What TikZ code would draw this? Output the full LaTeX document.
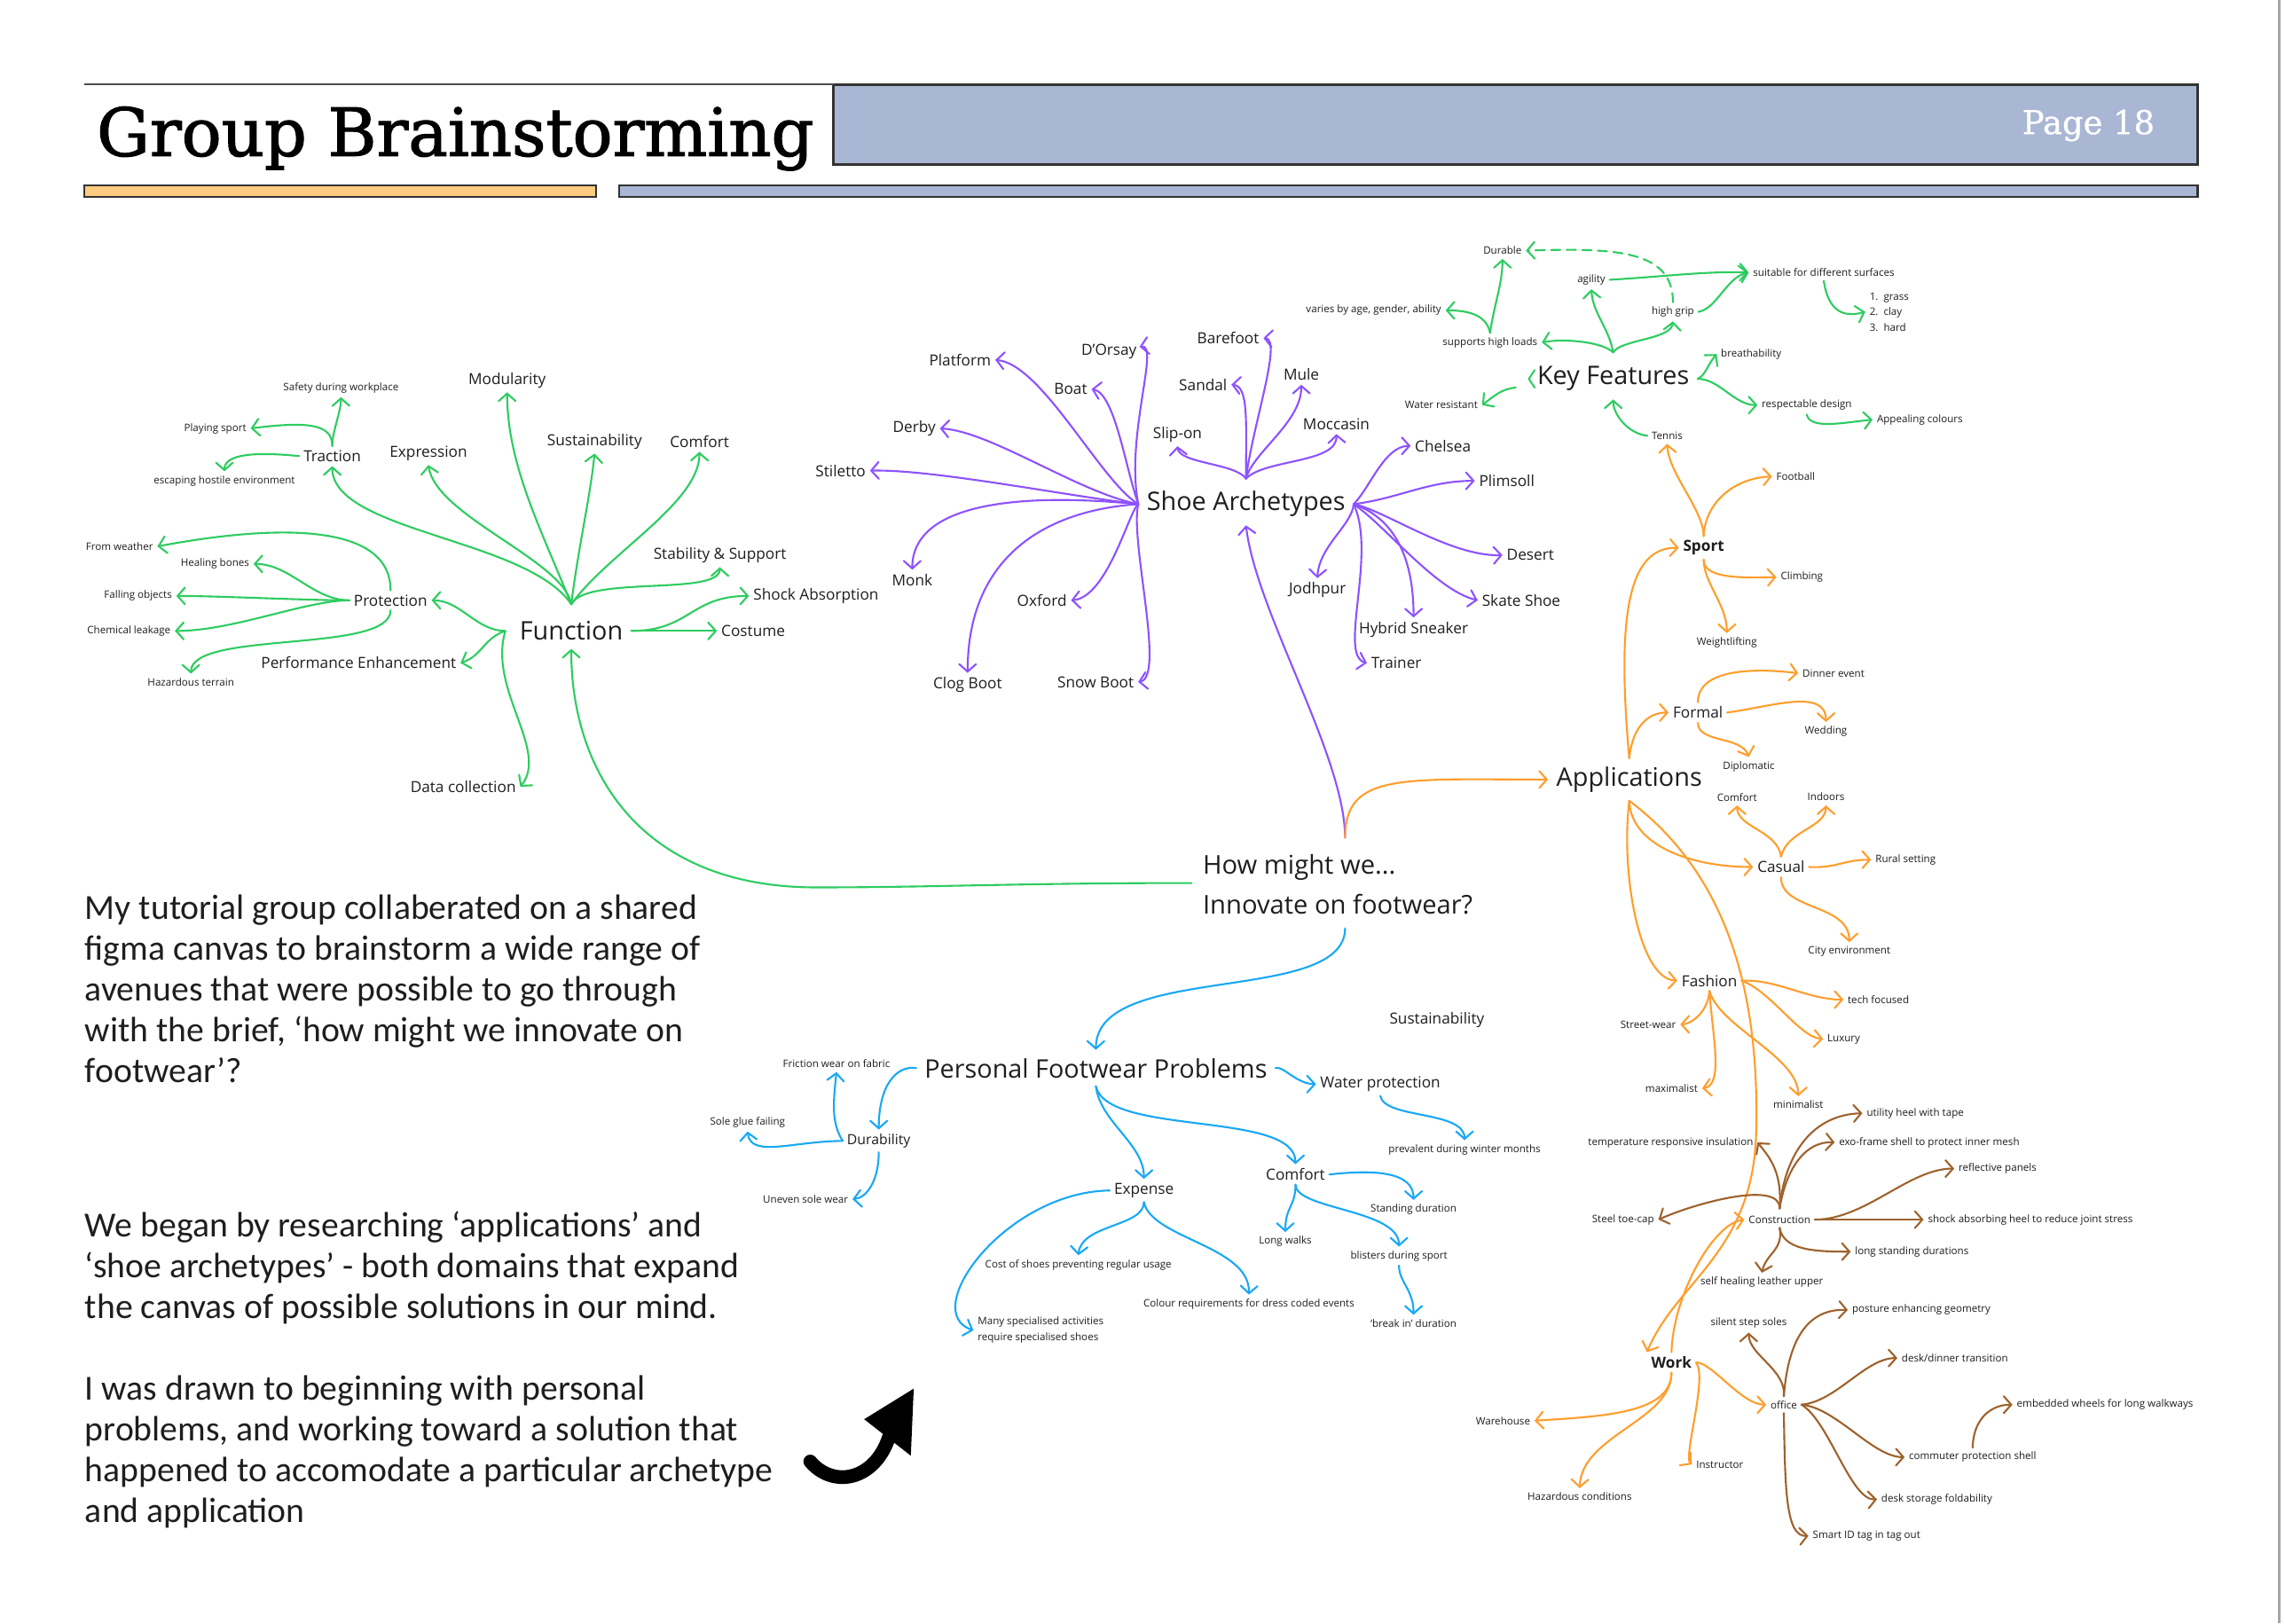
\documentclass[tikz,border=0pt]{standalone}
\usepackage{fontspec}
\setmainfont{Open Sans}
\newfontfamily\mapfont{Open Sans}
\newfontfamily\parafont{Carlito}
\newfontfamily\titlefont[FakeBold=1.6]{DejaVu Serif}
\newfontfamily\pagefont[FakeBold=0.8]{DejaVu Serif}
\usetikzlibrary{arrows.meta,calc}
\definecolor{cg}{RGB}{46,204,96}
\definecolor{cp}{RGB}{141,82,255}
\definecolor{co}{RGB}{255,158,44}
\definecolor{cb}{RGB}{24,168,245}
\definecolor{cbr}{RGB}{158,98,44}
\definecolor{hdrblue}{RGB}{169,183,212}
\definecolor{barorange}{RGB}{253,204,128}
\definecolor{txt}{RGB}{30,30,30}
\begin{document}
\begin{tikzpicture}[x=0.016429cm,y=-0.016429cm,
  lbl/.style={inner sep=1.2pt, text=txt},
  mainn/.style={lbl, inner sep=2.5pt, font=\mapfont\fontsize{8.2}{9.5}\selectfont},
  midn/.style={lbl, font=\mapfont\fontsize{4.9}{5.8}\selectfont},
  midbn/.style={lbl, font=\mapfont\bfseries\fontsize{4.9}{5.8}\selectfont},
  duran/.style={lbl, font=\mapfont\fontsize{4.5}{5.4}\selectfont},
  smalln/.style={lbl, font=\mapfont\fontsize{3.3}{4}\selectfont},
  para/.style={inner sep=0pt, text=txt, font=\parafont\fontsize{11.3}{13}\selectfont},
  conn/.style={line width=0.6pt, line cap=round, -{Straight Barb[length=2.4pt,width=5.4pt,line cap=round]}},
  gA/.style={conn, draw=cg},
  pA/.style={conn, draw=cp},
  oA/.style={conn, draw=co},
  bA/.style={conn, draw=cb},
  brA/.style={conn, draw=cbr}]
\useasboundingbox (0,0) rectangle (1568,1114);
\fill[white] (0,0) rectangle (1568,1114);
\draw[black!35, line width=0.8pt] (1564,0) -- (1564,1114);

% ---------- header ----------
\fill[hdrblue] (572,58) rectangle (1508,113);
\draw[black!80, line width=0.9pt] (572,58) rectangle (1508,113);
\draw[black!70, line width=0.6pt] (58,58) -- (572,58);
\filldraw[fill=barorange, draw=black!80, line width=0.6pt] (58,127) rectangle (409,135);
\filldraw[fill=hdrblue, draw=black!80, line width=0.6pt] (425,127) rectangle (1508,135);
\node[anchor=base west, inner sep=0pt, font=\titlefont\fontsize{21.3}{24}\selectfont] (title) at (66,107) {Group Brainstorming};
\node[anchor=base east, inner sep=0pt, text=white, font=\pagefont\fontsize{10.5}{12}\selectfont] (page) at (1479,92) {Page 18};

% ---------- paragraphs ----------
\node[para, anchor=base west] (pa1) at (58,631) {My tutorial group collaberated on a shared};
\node[para, anchor=base west] (pa2) at (58,659) {figma canvas to brainstorm a wide range of};
\node[para, anchor=base west] (pa3) at (58,687) {avenues that were possible to go through};
\node[para, anchor=base west] (pa4) at (58,715) {with the brief, ‘how might we innovate on};
\node[para, anchor=base west] (pa5) at (58,743) {footwear’?};
\node[para, anchor=base west] (pb1) at (58,849) {We began by researching ‘applications’ and};
\node[para, anchor=base west] (pb2) at (58,877) {‘shoe archetypes’ - both domains that expand};
\node[para, anchor=base west] (pb3) at (58,905) {the canvas of possible solutions in our mind.};
\node[para, anchor=base west] (pc1) at (58,961) {I was drawn to beginning with personal};
\node[para, anchor=base west] (pc2) at (58,989) {problems, and working toward a solution that};
\node[para, anchor=base west] (pc3) at (58,1017) {happened to accomodate a particular archetype};
\node[para, anchor=base west] (pc4) at (58,1045) {and application};

% black arrow
\draw[line width=4.4pt, line cap=round] (556,1003) .. controls (572,1022) and (602,1016) .. (611,983);
\fill (627,953) -- (593,974) -- (625,999) -- cycle;

% ---------- centre ----------
\node[lbl, inner sep=2.5pt, align=left, font=\mapfont\fontsize{8.3}{12.6}\selectfont] (hmw) at (918,607) {How might we...\\Innovate on footwear?};
\coordinate (hL) at ($(hmw.west)+(-2,-1)$);
\coordinate (hT) at ($(hmw.north)+(5,-6)$);
\coordinate (hB) at ($(hmw.south)+(5,4)$);

% ---------- Function (green) ----------
\node[mainn] (func) at (392,433) {Function};
\node[midn] (modul) at (348,261) {Modularity};
\node[midn] (sustf) at (408,303) {Sustainability};
\node[midn] (comff) at (480,303) {Comfort};
\node[midn] (expr) at (294,311) {Expression};
\node[midn] (tract) at (228,313) {Traction};
\node[smalln] (safety) at (234,266) {Safety during workplace};
\node[smalln, anchor=east] (playsp) at (172,294) {Playing sport};
\node[smalln] (escap) at (154,330) {escaping hostile environment};
\node[midn] (stab) at (494,381) {Stability \& Support};
\node[midn, anchor=west] (shock) at (514,409) {Shock Absorption};
\node[midn, anchor=west] (costume) at (492,433) {Costume};
\node[midn] (protect) at (268,412) {Protection};
\node[smalln, anchor=east] (weather) at (108,375) {From weather};
\node[smalln, anchor=east] (healing) at (174,387) {Healing bones};
\node[smalln, anchor=east] (falling) at (121,409) {Falling objects};
\node[smalln, anchor=east] (chem) at (120,433) {Chemical leakage};
\node[smalln] (hazter) at (131,468) {Hazardous terrain};
\node[midn, anchor=east] (perf) at (316,455) {Performance Enhancement};
\node[midn, anchor=east] (datac) at (357,540) {Data collection};

\coordinate (fT) at ($(func.north)+(0,-6)$);
\coordinate (fL) at ($(func.west)+(-4,0)$);
\draw[gA] (fT) .. controls +(-20,-50) and +(0,50) .. (modul.south);
\draw[gA] (fT) .. controls +(5,-40) and +(-3,30) .. (sustf.south);
\draw[gA] (fT) .. controls +(25,-35) and +(0,35) .. (comff.south);
\draw[gA] (fT) .. controls +(-5,-30) and +(5,35) .. (expr.south);
\draw[gA] (fT) .. controls +(-30,-45) and +(0,45) .. (tract.south);
\draw[gA] (fT) .. controls +(10,-20) and +(0,20) .. (stab.south);
\draw[gA] (func.east) -- (costume.west);
\draw[gA] (func.east) .. controls +(40,0) and +(-40,0) .. (shock.west);
\draw[gA] (fL) .. controls +(-20,0) and +(20,0) .. (protect.east);
\draw[gA] (fL) .. controls +(-15,5) and +(15,-5) .. (perf.east);
\draw[gA] (fL) .. controls +(-12,40) and +(20,-25) .. (datac.east);
\draw[gA] (protect.north) .. controls +(0,-47) and +(80,-15) .. (weather.east);
\draw[gA] (protect.west) .. controls +(-25,0) and +(25,0) .. (healing.east);
\draw[gA] (protect.west) .. controls +(-30,0) and +(30,0) .. (falling.east);
\draw[gA] (protect.west) .. controls +(-30,0) and +(40,0) .. (chem.east);
\draw[gA] (protect.south) .. controls +(0,30) and +(0,-30) .. (hazter.north);
\draw[gA] (tract.north) .. controls +(0,-10) and +(0,10) .. (safety.south);
\draw[gA] (tract.north) .. controls +(0,-15) and +(40,-5) .. (playsp.east);
\draw[gA] (tract.west) .. controls +(-30,-3) and +(0,-12) .. (escap.north);
\draw[gA] (hL) .. controls (700,606) and (640,609) .. (560,609) .. controls (440,609) and (392,530) .. (func.south);

% ---------- Shoe Archetypes (purple) ----------
\node[mainn] (shoe) at (855,346) {Shoe Archetypes};
\node[midn, anchor=east] (platf) at (683,247) {Platform};
\node[midn] (dorsay) at (761,241) {D’Orsay};
\node[midn, anchor=east] (boat) at (749,267) {Boat};
\node[midn, anchor=east] (derby) at (645,294) {Derby};
\node[midn, anchor=east] (stil) at (597,323) {Stiletto};
\node[midn] (monk) at (626,398) {Monk};
\node[midn] (clog) at (664,470) {Clog Boot};
\node[midn, anchor=east] (oxford) at (735,412) {Oxford};
\node[midn, anchor=east] (snow) at (781,468) {Snow Boot};
\node[midn] (slip) at (808,298) {Slip-on};
\node[midn, anchor=east] (sandal) at (845,264) {Sandal};
\node[midn, anchor=east] (barefoot) at (867,232) {Barefoot};
\node[midn] (mule) at (893,257) {Mule};
\node[midn] (mocc) at (917,291) {Moccasin};
\node[midn, anchor=west] (chelsea) at (968,306) {Chelsea};
\node[midn, anchor=west] (plim) at (1012,330) {Plimsoll};
\node[midn, anchor=west] (desert) at (1031,381) {Desert};
\node[midn, anchor=west] (skate) at (1014,412) {Skate Shoe};
\node[midn] (hybrid) at (970,432) {Hybrid Sneaker};
\node[midn, anchor=west] (trainer) at (938,455) {Trainer};
\node[midn] (jodh) at (904,405) {Jodhpur};

\draw[pA] (hT) .. controls +(0,-56) and (862,420) .. (shoe.south);
\draw[pA] (shoe.west) .. controls (755,330) and (715,250) .. (platf.east);
\draw[pA] (shoe.west) .. controls (772,300) and (796,236) .. ($(dorsay.east)+(-1,-3)$);
\draw[pA] (shoe.west) .. controls (772,320) and (765,270) .. (boat.east);
\draw[pA] (shoe.west) .. controls (740,338) and (680,296) .. (derby.east);
\draw[pA] (shoe.west) .. controls (730,340) and (640,322) .. (stil.east);
\draw[pA] (shoe.west) .. controls (700,338) and (626,345) .. (monk.north);
\draw[pA] (shoe.west) .. controls (720,350) and (664,380) .. (clog.north);
\draw[pA] (shoe.west) .. controls (775,350) and (760,410) .. (oxford.east);
\draw[pA] (shoe.west) .. controls (775,370) and (800,465) .. (snow.east);
\coordinate (sT) at ($(shoe.north)+(0,-3)$);
\draw[pA] (sT) .. controls (848,318) and (809,318) .. (slip.south);
\draw[pA] (sT) .. controls (855,290) and (857,265) .. (sandal.east);
\draw[pA] (sT) .. controls (860,290) and (880,233) .. (barefoot.east);
\draw[pA] (sT) .. controls (860,310) and (893,290) .. (mule.south);
\draw[pA] (sT) .. controls (868,315) and (918,318) .. (mocc.south);
\draw[pA] (shoe.east) .. controls (940,335) and (950,306) .. (chelsea.west);
\draw[pA] (shoe.east) .. controls (960,342) and (980,330) .. (plim.west);
\draw[pA] (shoe.east) .. controls (950,350) and (995,382) .. (desert.west);
\draw[pA] (shoe.east) .. controls (950,360) and (985,405) .. (skate.west);
\draw[pA] (shoe.east) .. controls (955,355) and (970,380) .. (hybrid.north);
\draw[pA] (shoe.east) .. controls (945,380) and (918,450) .. (trainer.west);
\draw[pA] (shoe.east) .. controls (928,360) and (905,375) .. (jodh.north);

% ---------- Key Features (green) ----------
\node[mainn] (kf) at (1107,260) {Key Features};
\node[smalln] (durable) at (1031,172) {Durable};
\node[smalln] (agility) at (1092,192) {agility};
\node[smalln] (highgrip) at (1148,214) {high grip};
\node[smalln, anchor=east] (shl) at (1058,235) {supports high loads};
\node[smalln, anchor=east] (varies) at (992,213) {varies by age, gender, ability};
\node[smalln, anchor=west] (suit) at (1200,187) {suitable for different surfaces};
\node[smalln, anchor=west, align=left, font=\mapfont\fontsize{3.3}{4.95}\selectfont] (lst) at (1280,214) {1.~~grass\\2.~~clay\\3.~~hard};
\node[smalln, anchor=west] (breath) at (1178,243) {breathability};
\node[smalln, anchor=west] (respd) at (1206,278) {respectable design};
\node[smalln, anchor=west] (appeal) at (1285,288) {Appealing colours};
\node[smalln, anchor=east] (water) at (1017,278) {Water resistant};
\node[smalln] (tennis) at (1144,299) {Tennis};

\draw[cg, line width=0.6pt, line cap=round, line join=round] ($(kf.west)+(4,-6)$) -- ($(kf.west)+(0,0)$) -- ($(kf.west)+(4,6)$);
\coordinate (kT) at ($(kf.north)+(0,-4)$);
\draw[gA] (kT) .. controls (1100,235) and (1075,232) .. (shl.east);
\draw[gA] (kT) .. controls (1104,225) and (1093,215) .. (agility.south);
\draw[gA] (kT) .. controls (1112,233) and (1147,233) .. (highgrip.south);
\draw[gA] (shl.north) .. controls (1025,210) and (1031,195) .. (durable.south);
\draw[gA] (shl.north) .. controls (1020,215) and (1005,213) .. (varies.east);
\draw[gA, dash pattern=on 3pt off 2pt] (highgrip.north) .. controls (1148,172) and (1110,170) .. (durable.east);
\draw[gA] (agility.east) .. controls (1140,190) and (1170,186) .. (suit.west);
\draw[gA] (highgrip.east) .. controls (1178,212) and (1185,190) .. (suit.west);
\draw[gA] (suit.south) .. controls (1254,210) and (1262,219) .. (lst.west);
\draw[gA] (kf.east) .. controls (1170,258) and (1172,250) .. (breath.west);
\draw[gA] (kf.east) .. controls (1180,260) and (1190,278) .. (respd.west);
\draw[gA] (respd.south) .. controls (1242,295) and (1265,290) .. (appeal.west);
\draw[gA] ($(kf.west)+(-9,6)$) .. controls (1030,267) and (1025,272) .. (water.east);
\draw[gA] (tennis.west) .. controls (1118,298) and (1107,285) .. (kf.south);

% ---------- Applications (orange) ----------
\node[mainn] (apps) at (1118,535) {Applications};
\node[midbn, anchor=west] (sport) at (1152,376) {Sport};
\node[smalln, anchor=west] (football) at (1216,327) {Football};
\node[smalln, anchor=west] (climb) at (1219,396) {Climbing};
\node[smalln] (weightl) at (1185,441) {Weightlifting};
\node[midn, anchor=west] (formal) at (1145,489) {Formal};
\node[smalln, anchor=west] (dinner) at (1234,462) {Dinner event};
\node[smalln] (wedding) at (1253,502) {Wedding};
\node[smalln] (diplo) at (1200,526) {Diplomatic};
\node[smalln] (ocomf) at (1192,547) {Comfort};
\node[smalln] (indoors) at (1253,547) {Indoors};
\node[midn, anchor=west] (casual) at (1203,595) {Casual};
\node[smalln, anchor=west] (rural) at (1284,590) {Rural setting};
\node[smalln] (city) at (1269,653) {City environment};
\node[midn, anchor=west] (fashion) at (1151,673) {Fashion};
\node[smalln, anchor=west] (tech) at (1265,686) {tech focused};
\node[smalln, anchor=west] (luxury) at (1251,713) {Luxury};
\node[smalln, anchor=east] (street) at (1153,703) {Street-wear};
\node[smalln, anchor=east] (maxi) at (1168,747) {maximalist};
\node[smalln] (mini) at (1234,758) {minimalist};
\node[midbn] (work) at (1147,935) {Work};
\node[smalln, anchor=west] (office) at (1212,964) {office};
\node[smalln, anchor=west] (instr) at (1161,1005) {Instructor};
\node[smalln, anchor=east] (wareh) at (1053,975) {Warehouse};
\node[smalln] (hazc) at (1084,1027) {Hazardous conditions};
\node[smalln, anchor=west] (constr) at (1197,837) {Construction};

\draw[oA] (hT) .. controls +(0,-45) and +(-100,0) .. (apps.west);
\draw[oA] (apps.north) .. controls (1110,430) and (1115,375) .. (sport.west);
\draw[oA] (apps.north) .. controls (1120,500) and (1130,489) .. (formal.west);
\draw[oA] (sport.north) .. controls (1170,345) and (1190,328) .. (football.west);
\draw[oA] (sport.north) .. controls (1169,350) and (1145,325) .. (tennis.south);
\draw[oA] (sport.south) .. controls (1169,396) and (1190,397) .. (climb.west);
\draw[oA] (sport.south) .. controls (1169,400) and (1185,415) .. (weightl.north);
\draw[oA] (formal.north) .. controls (1165,460) and (1200,458) .. (dinner.west);
\draw[oA] (formal.east) .. controls (1215,485) and (1253,472) .. (wedding.north);
\draw[oA] (formal.south) .. controls (1165,510) and (1195,505) .. (diplo.north);
\draw[oA] (apps.south) .. controls (1119,580) and (1160,595) .. (casual.west);
\draw[oA] (casual.north) .. controls (1220,570) and (1192,568) .. (ocomf.south);
\draw[oA] (casual.north) .. controls (1226,570) and (1253,568) .. (indoors.south);
\draw[oA] (casual.east) .. controls (1260,596) and (1265,590) .. (rural.west);
\draw[oA] (casual.south) .. controls (1222,625) and (1269,620) .. (city.north);
\draw[oA] (apps.south) .. controls (1112,600) and (1125,672) .. (fashion.west);
\draw[oA] (fashion.east) .. controls (1220,672) and (1240,686) .. (tech.west);
\draw[oA] (fashion.east) .. controls (1215,680) and (1235,712) .. (luxury.west);
\draw[oA] (fashion.south) .. controls (1172,695) and (1160,703) .. (street.east);
\draw[oA] (fashion.south) .. controls (1175,710) and (1183,745) .. (maxi.east);
\draw[oA] (fashion.south) .. controls (1180,705) and (1234,725) .. (mini.north);
\draw[oA] (apps.south) .. controls (1185,600) and (1208,680) .. (1205,780) .. controls (1202,860) and (1150,880) .. (work.north west);
\draw[oA] (work.north) .. controls (1148,890) and (1175,840) .. (constr.west);
\draw[oA] (work.east) .. controls (1175,935) and (1195,964) .. (office.west);
\draw[oA] (work.east) .. controls (1172,945) and (1155,1000) .. (instr.west);
\draw[oA] (work.south) .. controls (1147,970) and (1100,972) .. (wareh.east);
\draw[oA] (work.south) .. controls (1147,975) and (1085,985) .. (hazc.north);

% ---------- Construction / office (brown) ----------
\node[smalln, anchor=east] (tempr) at (1206,784) {temperature responsive insulation};
\node[smalln, anchor=west] (utility) at (1278,764) {utility heel with tape};
\node[smalln, anchor=west] (exo) at (1259,784) {exo-frame shell to protect inner mesh};
\node[smalln, anchor=east] (steel) at (1138,837) {Steel toe-cap};
\node[smalln, anchor=west] (refl) at (1341,802) {reflective panels};
\node[smalln, anchor=west] (shockh) at (1320,837) {shock absorbing heel to reduce joint stress};
\node[smalln, anchor=west] (longst) at (1270,859) {long standing durations};
\node[smalln] (selfh) at (1209,880) {self healing leather upper};
\node[smalln] (silent) at (1200,908) {silent step soles};
\node[smalln, anchor=west] (posture) at (1268,899) {posture enhancing geometry};
\node[smalln, anchor=west] (deskd) at (1302,932) {desk/dinner transition};
\node[smalln, anchor=west] (commut) at (1307,1000) {commuter protection shell};
\node[smalln, anchor=west] (deskst) at (1288,1029) {desk storage foldability};
\node[smalln, anchor=west] (smartid) at (1241,1054) {Smart ID tag in tag out};
\node[smalln, anchor=west] (wheels) at (1381,964) {embedded wheels for long walkways};

\coordinate (cT) at ($(constr.north)+(0,-2)$);
\draw[brA] (cT) .. controls (1223,805) and (1215,795) .. (tempr.east);
\draw[brA] (cT) .. controls (1225,790) and (1245,765) .. (utility.west);
\draw[brA] (cT) .. controls (1226,800) and (1240,783) .. (exo.west);
\draw[brA] (cT) .. controls (1222,810) and (1165,825) .. (steel.east);
\draw[brA] (constr.east) .. controls (1280,837) and (1310,802) .. (refl.west);
\draw[brA] (constr.east) -- (shockh.west);
\draw[brA] (constr.south) .. controls (1224,858) and (1245,859) .. (longst.west);
\draw[brA] (constr.south) .. controls (1224,858) and (1212,860) .. (selfh.north);
\draw[brA] (office.north) .. controls (1226,940) and (1200,930) .. (silent.south);
\draw[brA] (office.north) .. controls (1227,920) and (1240,898) .. (posture.west);
\draw[brA] (office.east) .. controls (1260,962) and (1280,932) .. (deskd.west);
\draw[brA] (office.east) .. controls (1260,966) and (1285,1000) .. (commut.west);
\draw[brA] (office.east) .. controls (1255,975) and (1270,1030) .. (deskst.west);
\draw[brA] (office.south) .. controls (1225,1020) and (1225,1055) .. (smartid.west);
\draw[brA] (commut.north) .. controls (1354,975) and (1365,964) .. (wheels.west);

% ---------- Personal Footwear Problems (blue) ----------
\node[mainn] (pfp) at (752,733) {Personal Footwear Problems};
\node[duran] (dura) at (603,783) {Durability};
\node[smalln] (friction) at (574,730) {Friction wear on fabric};
\node[smalln] (soleg) at (513,770) {Sole glue failing};
\node[smalln, anchor=east] (uneven) at (585,823) {Uneven sole wear};
\node[midn, anchor=west] (waterp) at (903,744) {Water protection};
\node[smalln] (prev) at (1005,789) {prevalent during winter months};
\node[midn] (expense) at (785,817) {Expense};
\node[midn] (bcomf) at (889,806) {Comfort};
\node[smalln, anchor=west, align=left, font=\mapfont\fontsize{3.3}{5.1}\selectfont] (many) at (668,913) {Many specialised activities\\require specialised shoes};
\node[smalln] (cost) at (740,868) {Cost of shoes preventing regular usage};
\node[smalln] (colour) at (857,895) {Colour requirements for dress coded events};
\node[smalln] (standing) at (970,830) {Standing duration};
\node[smalln] (longw) at (882,852) {Long walks};
\node[smalln] (blist) at (960,862) {blisters during sport};
\node[smalln] (breakin) at (970,908) {‘break in’ duration};
\node[midn] (sustain) at (986,700) {Sustainability};

\draw[bA] (hB) .. controls (923,690) and (752,660) .. (pfp.north);
\draw[bA] (pfp.west) .. controls (615,731) and (603,745) .. (dura.north);
\draw[bA] (dura.west) .. controls (570,770) and (572,755) .. (friction.south);
\draw[bA] (dura.west) .. controls (545,783) and (515,795) .. (soleg.south);
\draw[bA] (dura.south) .. controls (603,810) and (595,822) .. (uneven.east);
\draw[bA] (pfp.east) .. controls (880,731) and (890,744) .. (waterp.west);
\draw[bA] (waterp.south) .. controls (950,768) and (1005,762) .. (prev.north);
\draw[bA] (pfp.south) .. controls (755,770) and (785,785) .. (expense.north);
\draw[bA] (pfp.south) .. controls (760,780) and (889,762) .. (bcomf.north);
\draw[bA] (expense.west) .. controls (690,818) and (630,900) .. (many.west);
\draw[bA] (expense.south) .. controls (785,842) and (742,840) .. (cost.north);
\draw[bA] (expense.south) .. controls (790,850) and (858,855) .. (colour.north);
\draw[bA] (bcomf.east) .. controls (940,803) and (970,803) .. (standing.north);
\draw[bA] (bcomf.south) .. controls (889,828) and (882,828) .. (longw.north);
\draw[bA] (bcomf.south) .. controls (889,830) and (960,830) .. (blist.north);
\draw[bA] (blist.south) .. controls (960,880) and (970,885) .. (breakin.north);
\end{tikzpicture}
\end{document}
